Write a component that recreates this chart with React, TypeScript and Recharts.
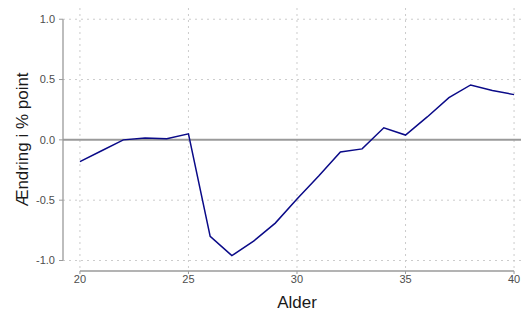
import { LineChart, Line, XAxis, YAxis, CartesianGrid, ReferenceLine } from 'recharts'

const ages = [20, 21, 22, 23, 24, 25, 26, 27, 28, 29, 30, 31, 32, 33, 34, 35, 36, 37, 38, 39, 40]
const change = [
  -0.18, -0.09, 0.0, 0.015, 0.01, 0.05, -0.8, -0.96, -0.84, -0.69, -0.49, -0.3, -0.1, -0.075, 0.1,
  0.04, 0.19, 0.35, 0.455, 0.41, 0.375,
]
const xTicks = [20, 25, 30, 35, 40]
const yTicks = [-1, -0.5, 0, 0.5, 1]

const data = ages.map((a, i) => ({ alder: a, value: change[i] }))

const axisGray = '#9a9a9a'
const tickText = { fontFamily: 'Liberation Sans, Arial, sans-serif', fontSize: 11, fill: '#4d4d4d' }

const YTitle = (props: any) => {
  const vb = props.viewBox
  const cx = 22
  const cy = vb.y + vb.height / 2
  return (
    <text
      x={cx}
      y={cy}
      transform={`rotate(-90, ${cx}, ${cy})`}
      textAnchor="middle"
      dominantBaseline="central"
      fontFamily="Liberation Sans, Arial, sans-serif"
      fontSize={17}
      fill="#1a1a1a"
    >
      Ændring i % point
    </text>
  )
}

const XTitle = () => (
  <text
    x={297}
    y={302}
    textAnchor="middle"
    dominantBaseline="central"
    fontFamily="Liberation Sans, Arial, sans-serif"
    fontSize={17}
    fill="#1a1a1a"
  >
    Alder
  </text>
)

export default function App() {
  return (
    <div style={{ position: 'absolute', left: 0, top: 0, background: '#fff' }}>
      <LineChart width={523} height={312} data={data} margin={{ top: 8, right: 2, bottom: 0, left: 0 }}>
        <CartesianGrid
          stroke="#cccccc"
          strokeDasharray="2 4"
          horizontalValues={[-1, -0.5, 0.5, 1]}
          verticalValues={xTicks}
        />
        <XAxis
          dataKey="alder"
          type="number"
          domain={[19.22, 40.32]}
          allowDataOverflow
          ticks={xTicks}
          height={41}
          axisLine={false}
          tickSize={3}
          tickMargin={1}
          tickLine={{ stroke: axisGray }}
          tick={tickText}
          label={<XTitle />}
        />
        <YAxis
          type="number"
          domain={[-1.087, 1.093]}
          allowDataOverflow
          ticks={yTicks}
          width={63}
          axisLine={false}
          tickSize={4}
          tickMargin={4}
          tickLine={{ stroke: axisGray }}
          tick={tickText}
          tickFormatter={(v: number) => v.toFixed(1)}
          label={<YTitle />}
        />
        <ReferenceLine y={0} stroke="#9a9a9a" strokeWidth={2} />
        <ReferenceLine
          segment={[
            { x: 20, y: -1.087 },
            { x: 40, y: -1.087 },
          ]}
          stroke={axisGray}
          strokeWidth={1.3}
          ifOverflow="visible"
        />
        <ReferenceLine
          segment={[
            { x: 19.22, y: -1 },
            { x: 19.22, y: 1 },
          ]}
          stroke={axisGray}
          strokeWidth={1.3}
          ifOverflow="visible"
        />
        <Line
          type="linear"
          dataKey="value"
          stroke="#0a0a88"
          strokeWidth={1.5}
          dot={false}
          isAnimationActive={false}
        />
      </LineChart>
    </div>
  )
}
